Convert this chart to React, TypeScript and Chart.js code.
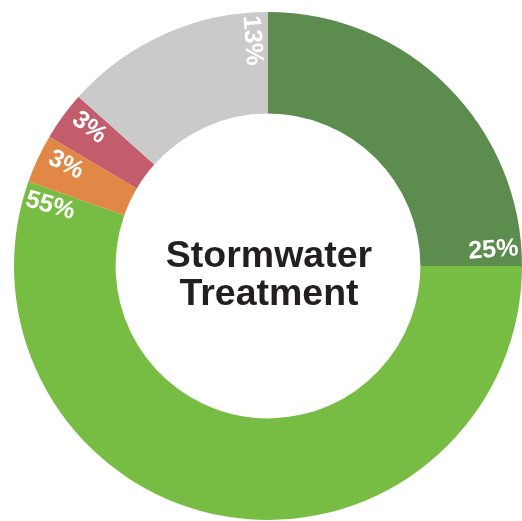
import React, { useEffect, useRef } from "react";
import { Chart, registerables } from "chart.js";

Chart.register(...registerables);

const categories = ["Category A", "Category B", "Category C", "Category D", "Category E"];
const values = [25, 55.4, 3.1, 3.1, 13.4];
const valueLabels = ["25%", "55%", "3%", "3%", "13%"];
const colors = ["#5C8C4E", "#78BD43", "#E28846", "#C45D6B", "#CBCACA"];
const centerLines = ["Stormwater", "Treatment"];

const FONT = "'Liberation Sans', Arial, Helvetica, sans-serif";

const labelPlugin = {
  id: "sliceLabels",
  afterDatasetsDraw(chart: any) {
    const ctx = chart.ctx;
    const meta = chart.getDatasetMeta(0);
    meta.data.forEach((arc: any, i: number) => {
      const { startAngle, endAngle, outerRadius, x, y } = arc.getProps(
        ["startAngle", "endAngle", "outerRadius", "x", "y"],
        true
      );
      const span = endAngle - startAngle;
      const a = endAngle - Math.min(span / 2, 0.07);
      const r = outerRadius - 28;
      const px = x + Math.cos(a) * r;
      const py = y + Math.sin(a) * r;
      let rot = a;
      if (Math.cos(a) < 0.01) rot += Math.PI;
      ctx.save();
      ctx.translate(px, py);
      ctx.rotate(rot);
      ctx.fillStyle = "#FFFFFF";
      ctx.font = `bold 25px ${FONT}`;
      ctx.textAlign = "center";
      ctx.textBaseline = "middle";
      ctx.fillText(valueLabels[i], 0, 0);
      ctx.restore();
    });

    const c = meta.data[0];
    ctx.save();
    ctx.fillStyle = "#231F20";
    ctx.font = `bold 37.5px ${FONT}`;
    ctx.textAlign = "center";
    ctx.textBaseline = "alphabetic";
    ctx.fillText(centerLines[0], c.x + 1, c.y + 1);
    ctx.fillText(centerLines[1], c.x + 1, c.y + 39);
    ctx.restore();
  },
};

export default function App() {
  const ref = useRef<HTMLCanvasElement | null>(null);
  useEffect(() => {
    if (!ref.current) return;
    const chart = new Chart(ref.current, {
      type: "doughnut",
      data: {
        labels: categories,
        datasets: [
          {
            data: values,
            backgroundColor: colors,
            borderWidth: 0,
          },
        ],
      },
      options: {
        animation: false,
        responsive: false,
        cutout: "60%",
        layout: { padding: { left: 14, top: 12, right: 14, bottom: 16 } },
        plugins: {
          legend: { display: false },
          tooltip: { enabled: false },
        },
      },
      plugins: [labelPlugin],
    });
    return () => chart.destroy();
  }, []);
  return (
    <div style={{ position: "fixed", left: 0, top: 0, width: 536, height: 536, background: "#fff" }}>
      <canvas ref={ref} width={536} height={536} style={{ width: 536, height: 536 }} />
    </div>
  );
}
